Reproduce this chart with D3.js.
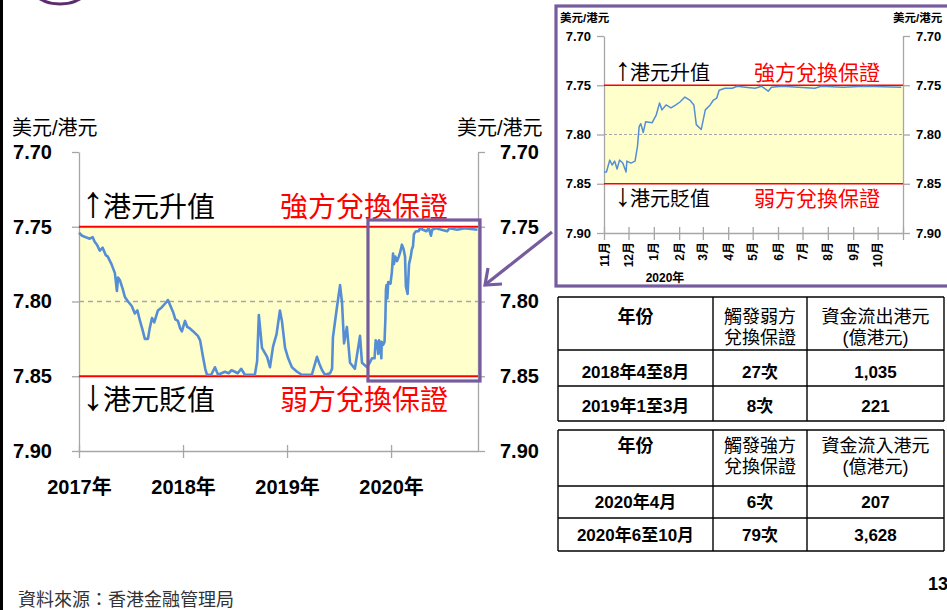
<!DOCTYPE html>
<html>
<head>
<meta charset="utf-8">
<script src="https://cdn.jsdelivr.net/npm/d3@7"></script>
<style>
  body { margin: 0; background: #fff; }
  svg text { font-family: 'Liberation Sans', Arial, 'Noto Sans CJK TC', sans-serif; }
</style>
</head>
<body>
<div id="chart"></div>
<script>
// USD/HKD spot (Jan 2017 - Oct 2019)
const pegDates = ["2017-01-01","2017-01-12","2017-01-25","2017-02-08","2017-02-18","2017-02-25","2017-03-05","2017-03-15",
  "2017-03-25","2017-04-05","2017-04-12","2017-04-25","2017-05-07","2017-05-14","2017-05-18","2017-05-25","2017-06-04",
  "2017-06-11","2017-06-22","2017-07-05","2017-07-16","2017-07-25","2017-08-03","2017-08-12","2017-08-20","2017-08-31",
  "2017-09-06","2017-09-14","2017-09-22","2017-10-05","2017-10-18","2017-11-01","2017-11-09","2017-11-18","2017-11-27",
  "2017-12-05","2017-12-14","2017-12-22","2017-12-28","2018-01-08","2018-01-16","2018-01-25","2018-02-06","2018-02-22",
  "2018-03-02","2018-03-12","2018-03-20","2018-03-26","2018-04-10","2018-04-23","2018-05-04","2018-05-16","2018-05-28",
  "2018-06-10","2018-06-20","2018-07-02","2018-07-12","2018-07-24","2018-08-06","2018-08-20","2018-09-10","2018-09-18",
  "2018-09-24","2018-10-05","2018-10-14","2018-10-23","2018-11-02","2018-11-13","2018-11-25","2018-12-07","2018-12-14",
  "2018-12-25","2019-01-05","2019-01-18","2019-02-05","2019-02-22","2019-03-29","2019-04-16","2019-04-25","2019-05-04",
  "2019-05-14","2019-06-01","2019-06-08","2019-06-11","2019-06-25","2019-07-06","2019-07-13","2019-07-20","2019-07-30",
  "2019-08-10","2019-08-27","2019-09-14","2019-09-21","2019-10-09","2019-10-26"];
const pegRates = [7.754,7.756,7.757,7.758,7.757,7.760,7.762,7.766,
  7.764,7.769,7.770,7.775,7.781,7.793,7.784,7.786,7.792,
  7.797,7.800,7.803,7.808,7.806,7.813,7.819,7.825,7.825,
  7.818,7.811,7.814,7.806,7.804,7.801,7.799,7.803,7.807,
  7.812,7.813,7.818,7.820,7.813,7.817,7.818,7.820,7.823,
  7.826,7.837,7.845,7.849,7.849,7.844,7.849,7.848,7.847,
  7.848,7.846,7.847,7.848,7.845,7.849,7.849,7.849,7.840,
  7.809,7.831,7.834,7.837,7.844,7.830,7.822,7.806,7.813,
  7.831,7.838,7.844,7.847,7.849,7.849,7.837,7.842,7.846,
  7.849,7.848,7.845,7.824,7.804,7.789,7.801,7.828,7.817,
  7.841,7.845,7.823,7.841,7.844,7.838];

// (Nov 2019 - Oct 2020)
const zoomDates = ["2019-11-01","2019-11-04","2019-11-08","2019-11-11","2019-11-14","2019-11-17","2019-11-20","2019-11-24",
  "2019-11-28","2019-11-29","2019-12-04","2019-12-09","2019-12-12","2019-12-14","2019-12-16","2019-12-19","2019-12-22",
  "2019-12-30","2020-01-04","2020-01-08","2020-01-11","2020-01-16","2020-01-22","2020-01-28","2020-02-02","2020-02-08",
  "2020-02-14","2020-02-19","2020-02-22","2020-02-28","2020-03-04","2020-03-10","2020-03-14","2020-03-18","2020-03-21",
  "2020-03-28","2020-04-06","2020-04-12","2020-04-22","2020-05-04","2020-05-12","2020-05-20","2020-05-24","2020-06-06",
  "2020-07-16","2020-07-24","2020-08-20","2020-09-15","2020-10-30"];
const zoomRates = [7.838,7.838,7.826,7.831,7.827,7.835,7.826,7.829,
  7.838,7.827,7.829,7.827,7.812,7.792,7.789,7.798,7.787,
  7.788,7.780,7.768,7.775,7.770,7.773,7.770,7.767,7.762,
  7.765,7.770,7.790,7.795,7.775,7.770,7.765,7.763,7.755,
  7.753,7.753,7.751,7.752,7.753,7.751,7.756,7.752,7.751,
  7.753,7.751,7.752,7.751,7.752];

const rateTicks = [7.70, 7.75, 7.80, 7.85, 7.90];
const yearLabels = ["2017", "2018", "2019", "2020"];
const monthLabels = ["11月","12月","1月","2月","3月","4月","5月","6月","7月","8月","9月","10月"];

const outflowHead = [["年份"], ["觸發弱方", "兌換保證"], ["資金流出港元", "(億港元)"]];
const outflowRows = [["2018年4至8月", "27次", "1,035"], ["2019年1至3月", "8次", "221"]];
const inflowHead = [["年份"], ["觸發強方", "兌換保證"], ["資金流入港元", "(億港元)"]];
const inflowRows = [["2020年4月", "6次", "207"], ["2020年6至10月", "79次", "3,628"]];

const PURPLE = "#765C9E";
const BLUE = "#558ED5";
const parse = d3.timeParse("%Y-%m-%d");

var longSeries = pegDates.map((d, i) => ({date: parse(d), rate: pegRates[i]}));
var zoomSeries = zoomDates.map((d, i) => ({date: parse(d), rate: zoomRates[i]}));

const svg = d3.select("#chart").append("svg")
  .attr("width", 947)
  .attr("height", 610);

// left page edge + bit of the logo
svg.append("rect").attr("x", 0).attr("y", 0).attr("width", 3).attr("height", 610).attr("fill", "#000");
svg.append("ellipse").attr("cx", 60).attr("cy", -13).attr("rx", 28).attr("ry", 17)
  .attr("fill", "none").attr("stroke", "#5B2C6F").attr("stroke-width", 3);

// note text with a tall arrow in front
function note(g, x, y, arrow, label, fs, arrowFs) {
  var t = g.append("text").attr("x", x).attr("y", y).style("font-size", fs + "px");
  t.append("tspan").style("font-size", arrowFs + "px").text(arrow);
  t.append("tspan").attr("dx", -1).text(label);
}

function drawPanel(opt) {
  var x = d3.scaleTime().domain(opt.xDomain).range([opt.left, opt.right]);
  var y = d3.scaleLinear().domain([7.70, 7.90]).range([opt.top, opt.bottom]);
  var g = svg.append("g");

  g.append("rect")
    .attr("x", opt.left).attr("y", y(7.75))
    .attr("width", opt.right - opt.left).attr("height", y(7.85) - y(7.75))
    .attr("fill", "#FFFFCC");

  g.append("line")
    .attr("x1", opt.left).attr("x2", opt.right)
    .attr("y1", y(7.80)).attr("y2", y(7.80))
    .attr("stroke", "#A6A6A6").attr("stroke-width", opt.dashW)
    .attr("stroke-dasharray", opt.dash);

  var left = g.append("g")
    .attr("transform", "translate(" + opt.left + ",0)")
    .call(d3.axisLeft(y).tickValues(rateTicks).tickSize(7).tickSizeOuter(0)
      .tickPadding(opt.padL).tickFormat(d3.format(".2f")));
  var right = g.append("g")
    .attr("transform", "translate(" + opt.right + ",0)")
    .call(d3.axisRight(y).tickValues(rateTicks).tickSize(7).tickSizeOuter(0)
      .tickPadding(opt.padR).tickFormat(d3.format(".2f")));
  var bottom = g.append("g")
    .attr("transform", "translate(0," + opt.bottom + ")")
    .call(d3.axisBottom(x).tickValues(opt.xTicks).tickSize(7).tickSizeOuter(0)
      .tickPadding(opt.padX).tickFormat(opt.xFormat));
  bottom.selectAll(".tick line").attr("y1", -6);

  [left, right, bottom].forEach(a => {
    a.selectAll("path, line").attr("stroke", "#A6A6A6").attr("stroke-width", 1.3);
    a.selectAll("text")
      .style("font-size", opt.fs + "px")
      .style("font-weight", "bold")
      .attr("fill", "#000");
  });
  bottom.selectAll("text").style("font-size", opt.fsX + "px");

  [7.75, 7.85].forEach(v => {
    g.append("line")
      .attr("x1", opt.left).attr("x2", opt.right)
      .attr("y1", y(v)).attr("y2", y(v))
      .attr("stroke", "#FF0000").attr("stroke-width", opt.redW);
  });

  g.append("path")
    .datum(opt.data)
    .attr("fill", "none")
    .attr("stroke", BLUE)
    .attr("stroke-width", opt.lineW)
    .attr("stroke-linejoin", "round")
    .attr("d", d3.line().x(d => x(d.date)).y(d => y(d.rate)));

  // unit labels
  g.append("text").attr("x", opt.unitL).attr("y", opt.unitY).text("美元/港元")
    .style("font-size", opt.unitFs + "px").style("font-weight", opt.unitW);
  g.append("text").attr("x", opt.unitR).attr("y", opt.unitY).text("美元/港元")
    .style("font-size", opt.unitFs + "px").style("font-weight", opt.unitW);

  // annotations
  var tx = opt.left + opt.noteDx;
  note(g, tx, y(7.75) - opt.noteGap, "↑", "港元升值", opt.noteFs, opt.arrowFs);
  note(g, tx, y(7.85) + opt.noteBelow, "↓", "港元貶值", opt.noteFs, opt.arrowFs);
  g.append("text").attr("x", opt.redX).attr("y", y(7.75) - opt.noteGap).text("強方兌換保證")
    .attr("fill", "#FF0000").style("font-size", opt.redFs + "px");
  g.append("text").attr("x", opt.redX).attr("y", y(7.85) + opt.noteBelow).text("弱方兌換保證")
    .attr("fill", "#FF0000").style("font-size", opt.redFs + "px");

  return {x: x, y: y, g: g};
}

// ---- main chart ----
var main = drawPanel({
  left: 79, right: 478, top: 152, bottom: 451,
  xDomain: [parse("2017-01-01"), parse("2020-11-01")],
  xTicks: yearLabels.map(s => parse(s + "-01-01")),
  xFormat: d => d.getFullYear() + "年",
  data: longSeries.concat(zoomSeries),
  padL: 20, padR: 15, padX: 22, fs: 20, fsX: 20,
  lineW: 2.6, redW: 2.2, dash: "5,4", dashW: 1.6,
  unitL: 12, unitR: 457, unitY: 135, unitFs: 20, unitW: "normal",
  noteDx: 3, noteGap: 10, noteBelow: 34, noteFs: 28, arrowFs: 44, redX: 280, redFs: 28
});

// box around the zoomed period
svg.append("rect")
  .attr("x", main.x(parse("2019-10-12"))).attr("y", 220)
  .attr("width", 480 - main.x(parse("2019-10-12"))).attr("height", 161)
  .attr("fill", "none").attr("stroke", PURPLE).attr("stroke-width", 3.2);

// ---- zoomed panel ----
svg.append("rect")
  .attr("x", 556).attr("y", 6).attr("width", 420).attr("height", 280)
  .attr("fill", "#fff").attr("stroke", PURPLE).attr("stroke-width", 3.2);

var monthTicks = d3.timeMonth.range(parse("2019-11-01"), parse("2020-11-02"));
var inset = drawPanel({
  left: 604, right: 903, top: 36, bottom: 233,
  xDomain: [parse("2019-11-01"), parse("2020-11-01")],
  xTicks: monthTicks,
  xFormat: () => "",
  data: zoomSeries,
  padL: 6, padR: 6, padX: 4, fs: 13, fsX: 1,
  lineW: 1.5, redW: 1.6, dash: "3,2", dashW: 1.1,
  unitL: 560, unitR: 893, unitY: 22, unitFs: 11.5, unitW: "bold",
  noteDx: 11, noteGap: 5, noteBelow: 22, noteFs: 20, arrowFs: 32, redX: 754, redFs: 21
});

inset.g.selectAll(".month")
  .data(monthLabels)
  .enter()
  .append("text")
  .attr("class", "month")
  .attr("transform", (d, i) => "translate(" + (inset.x(monthTicks[i]) + 4.5) + ",242)rotate(-90)")
  .attr("text-anchor", "end")
  .style("font-size", "12px")
  .style("font-weight", "bold")
  .text(d => d);
inset.g.append("text")
  .attr("x", 665).attr("y", 282)
  .attr("text-anchor", "middle")
  .style("font-size", "12px").style("font-weight", "bold")
  .text("2020年");

// arrow from inset to the box
svg.append("line").attr("x1", 552).attr("y1", 232).attr("x2", 486).attr("y2", 284)
  .attr("stroke", PURPLE).attr("stroke-width", 3.2);
svg.append("path").attr("d", "M488,268 L485,285 L502,284")
  .attr("fill", "none").attr("stroke", PURPLE).attr("stroke-width", 3.2);

// ---- tables ----
var colX = [558, 713, 807, 944];

function drawTable(head, rows, rowY, headY, rowMid) {
  var t = svg.append("g");
  rowY.forEach(yy => {
    t.append("line").attr("x1", colX[0]).attr("x2", colX[3]).attr("y1", yy).attr("y2", yy)
      .attr("stroke", "#000").attr("stroke-width", 1.4);
  });
  colX.forEach(xx => {
    t.append("line").attr("x1", xx).attr("x2", xx).attr("y1", rowY[0]).attr("y2", rowY[rowY.length - 1])
      .attr("stroke", "#000").attr("stroke-width", 1.4);
  });
  head.forEach((lines, c) => {
    var cx = (colX[c] + colX[c + 1]) / 2;
    lines.forEach((s, k) => {
      t.append("text").attr("x", cx).attr("y", headY + k * 21)
        .attr("text-anchor", "middle")
        .style("font-size", "18px")
        .style("font-weight", c === 0 ? "bold" : "normal")
        .text(s);
    });
  });
  rows.forEach((r, i) => {
    r.forEach((s, c) => {
      t.append("text").attr("x", (colX[c] + colX[c + 1]) / 2).attr("y", rowMid[i] + 6)
        .attr("text-anchor", "middle")
        .style("font-size", "17px").style("font-weight", "bold")
        .text(s);
    });
  });
}

drawTable(outflowHead, outflowRows, [297, 350, 386, 421], 323, [372, 406]);
drawTable(inflowHead, inflowRows, [430, 486, 518, 551], 452, [502, 535]);

// ---- footer ----
svg.append("text").attr("x", 18).attr("y", 606).attr("fill", "#333")
  .style("font-size", "18px").text("資料來源：香港金融管理局");
svg.append("text").attr("x", 928).attr("y", 590)
  .style("font-size", "18px").style("font-weight", "bold").text("13");
</script>
</body>
</html>
